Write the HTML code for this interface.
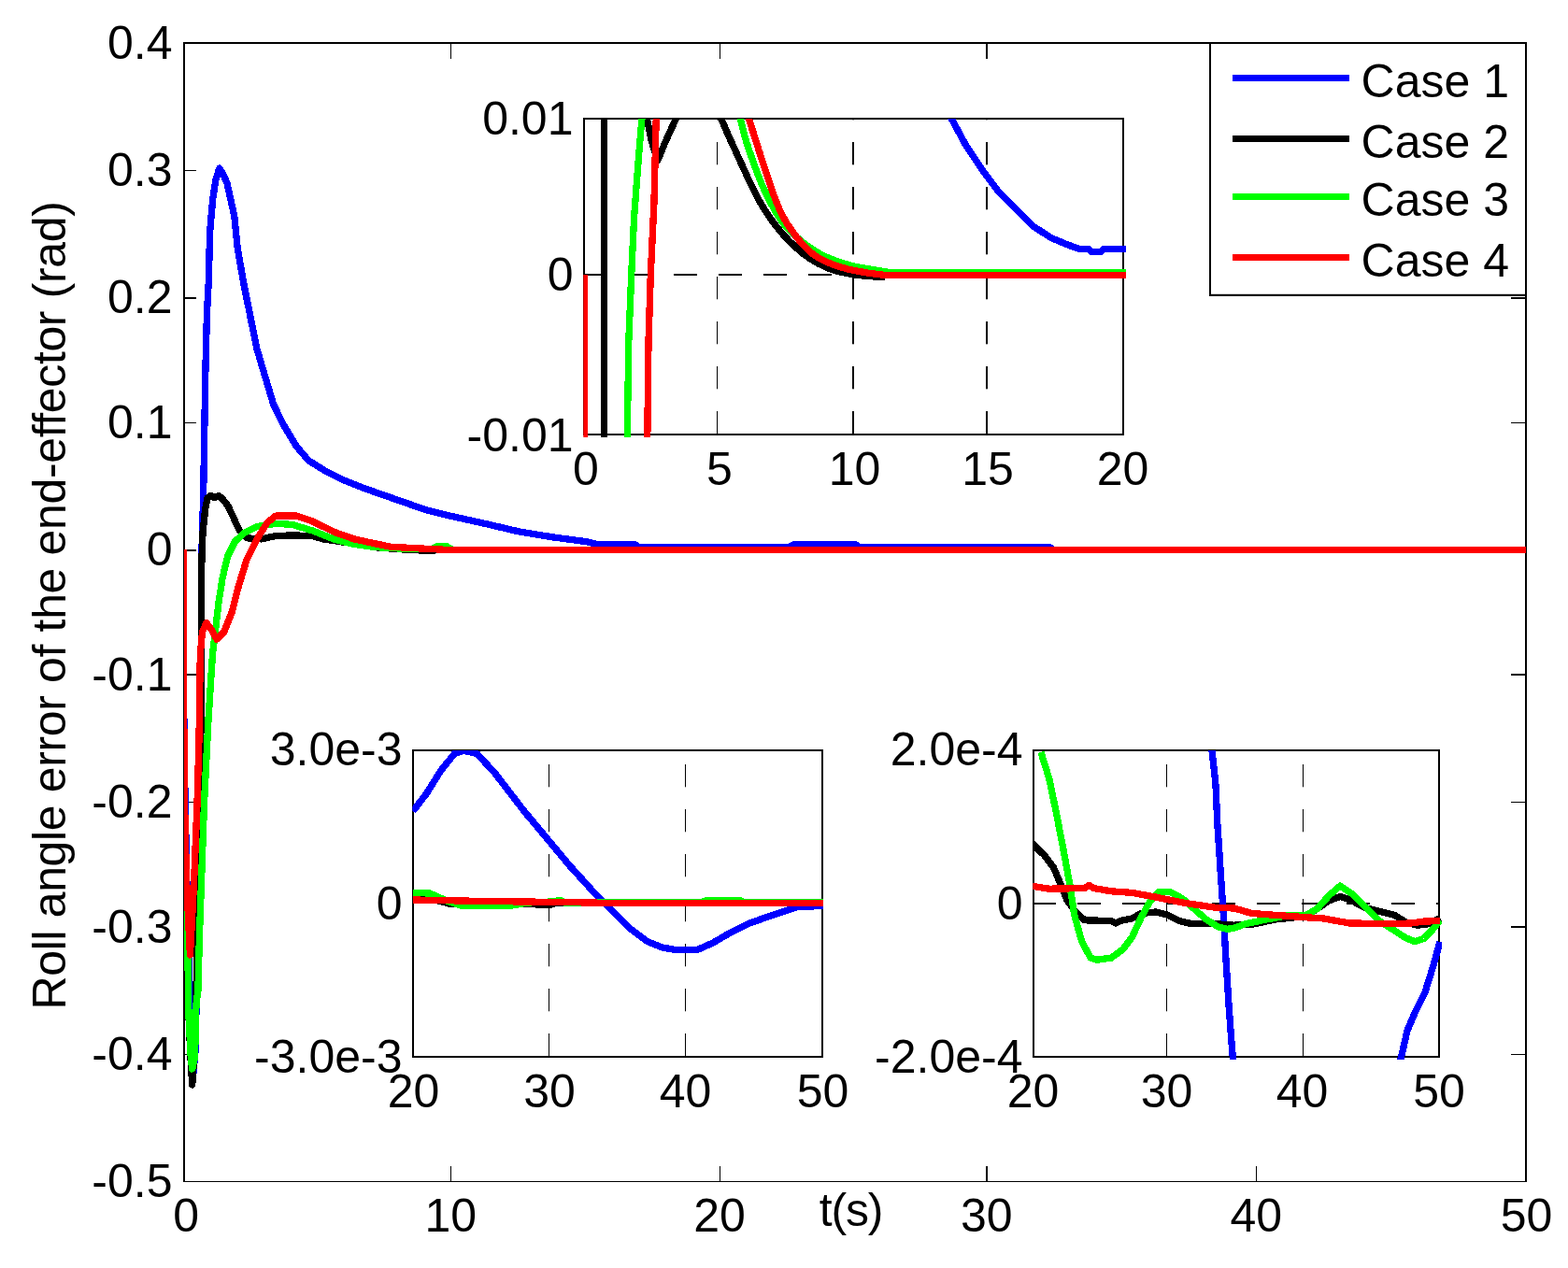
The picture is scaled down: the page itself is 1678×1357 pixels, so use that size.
<!DOCTYPE html>
<html lang="en">
<head>
<meta charset="utf-8">
<title>Roll angle error of the end-effector</title>
<style>
html,body{margin:0;padding:0;background:#fff;}
body{width:1678px;height:1357px;overflow:hidden;}
svg{display:block;}
text{font-family:"Liberation Sans",sans-serif;}
</style>
</head>
<body>
<svg width="1678" height="1357" viewBox="0 0 1678 1357" font-family="'Liberation Sans', sans-serif" font-size="50" fill="#000">
<rect x="0" y="0" width="1678" height="1357" fill="#fff"/>
<g stroke="#000" fill="none" shape-rendering="crispEdges">
<line x1="196" y1="46" x2="1634" y2="46" stroke-width="2"/>
<line x1="197" y1="46" x2="197" y2="1265" stroke-width="2"/>
<line x1="1633" y1="46" x2="1633" y2="1265" stroke-width="2"/>
<line x1="196" y1="1264.5" x2="1634" y2="1264.5" stroke-width="1.5"/>
<rect x="482" y="1248" width="1" height="16" fill="#000" stroke="none"/>
<rect x="482" y="47" width="1" height="15.5" fill="#000" stroke="none"/>
<rect x="770" y="1248" width="1" height="16" fill="#000" stroke="none"/>
<rect x="770" y="47" width="1" height="15.5" fill="#000" stroke="none"/>
<rect x="1055" y="1248" width="2" height="16" fill="#000" stroke="none"/>
<rect x="1055" y="47" width="2" height="15.5" fill="#000" stroke="none"/>
<rect x="1344" y="1248" width="1" height="16" fill="#000" stroke="none"/>
<rect x="1344" y="47" width="1" height="15.5" fill="#000" stroke="none"/>
<rect x="198" y="182" width="12" height="1" fill="#000" stroke="none"/>
<rect x="1617" y="182" width="15" height="1" fill="#000" stroke="none"/>
<rect x="198" y="318" width="12" height="2" fill="#000" stroke="none"/>
<rect x="1617" y="318" width="15" height="2" fill="#000" stroke="none"/>
<rect x="198" y="452" width="12" height="1" fill="#000" stroke="none"/>
<rect x="1617" y="452" width="15" height="1" fill="#000" stroke="none"/>
<rect x="198" y="588" width="12" height="2" fill="#000" stroke="none"/>
<rect x="1617" y="588" width="15" height="2" fill="#000" stroke="none"/>
<rect x="198" y="721" width="12" height="2" fill="#000" stroke="none"/>
<rect x="1617" y="721" width="15" height="2" fill="#000" stroke="none"/>
<rect x="198" y="858" width="12" height="1" fill="#000" stroke="none"/>
<rect x="1617" y="858" width="15" height="1" fill="#000" stroke="none"/>
<rect x="198" y="991" width="12" height="2" fill="#000" stroke="none"/>
<rect x="1617" y="991" width="15" height="2" fill="#000" stroke="none"/>
<rect x="198" y="1128" width="12" height="1" fill="#000" stroke="none"/>
<rect x="1617" y="1128" width="15" height="1" fill="#000" stroke="none"/>
</g>
<text x="184.5" y="62.5" text-anchor="end" >0.4</text>
<text x="184.5" y="199.0" text-anchor="end" >0.3</text>
<text x="184.5" y="335.0" text-anchor="end" >0.2</text>
<text x="184.5" y="469.0" text-anchor="end" >0.1</text>
<text x="184.5" y="605.0" text-anchor="end" >0</text>
<text x="184.5" y="738.5" text-anchor="end" >-0.1</text>
<text x="184.5" y="874.5" text-anchor="end" >-0.2</text>
<text x="184.5" y="1008.5" text-anchor="end" >-0.3</text>
<text x="184.5" y="1144.5" text-anchor="end" >-0.4</text>
<text x="184.5" y="1280.5" text-anchor="end" >-0.5</text>
<text x="199.1" y="1317.8" text-anchor="middle" >0</text>
<text x="482.2" y="1317.8" text-anchor="middle" >10</text>
<text x="770.0" y="1317.8" text-anchor="middle" >20</text>
<text x="1055.8" y="1317.8" text-anchor="middle" >30</text>
<text x="1344.3" y="1317.8" text-anchor="middle" >40</text>
<text x="1633.5" y="1317.8" text-anchor="middle" >50</text>
<text x="910.5" y="1312" text-anchor="middle" letter-spacing="-1.2">t(s)</text>
<text transform="translate(69.5,1080.5) rotate(-90)" text-anchor="start" letter-spacing="-0.36">Roll angle error of the end-effector (rad)</text>
<clipPath id="c0"><rect x="197" y="46" width="1437" height="1218"/></clipPath>
<g id="main-curves" clip-path="url(#c0)" shape-rendering="crispEdges">
<polyline points="196.0,588.0 197.0,800.0 201.0,1000.0 204.5,1100.0 207.0,1148.0 209.0,1125.0 210.0,1080.0 211.2,1010.0" fill="none" stroke="#0000ff" stroke-width="7.3" stroke-linejoin="round" stroke-linecap="butt" />
<polyline points="215.6,604.0 216.2,580.0 217.6,532.6 219.8,400.0 221.4,336.8 223.3,301.4 224.6,248.4 227.7,213.0 231.0,192.0 234.8,180.0 238.0,185.0 242.8,195.4 250.7,230.7 254.3,266.0 260.4,301.4 267.5,336.8 274.6,372.2 282.8,400.0 292.8,433.2 303.8,455.3 317.0,477.4 330.3,492.9 348.0,503.9 367.9,513.9 390.0,522.7 412.1,530.4 434.3,538.2 456.4,545.9 478.5,551.4 519.6,560.5 555.4,568.9 591.1,574.8 626.9,579.6 641.2,583.0 680.0,583.0 684.0,585.5 845.0,585.5 849.0,583.0 916.0,583.0 920.0,585.5 1123.0,585.5 1127.0,588.0" fill="none" stroke="#0000ff" stroke-width="7.3" stroke-linejoin="round" stroke-linecap="butt" />
<polyline points="196.0,588.0 197.0,860.0 200.5,1000.0 202.0,1088.0 204.0,1132.0 205.7,1161.0 208.5,1120.0 210.0,1060.0 211.0,1000.0 212.5,940.0 214.5,860.0 215.0,760.0 215.2,700.0 215.5,630.0 215.9,599.0 217.0,570.0 219.8,543.7 222.0,533.0 225.3,530.4 229.5,532.5 234.2,530.4 239.0,535.0 244.1,541.5 256.3,568.0 264.0,575.8 279.5,576.9 295.0,573.6 312.6,572.9 334.8,573.6 345.8,576.9 368.0,580.2 401.0,585.7 440.0,588.6 462.0,589.3 470.0,588.4 1633.0,588.4" fill="none" stroke="#000000" stroke-width="7.3" stroke-linejoin="round" stroke-linecap="butt" />
<polyline points="196.0,588.0 196.5,860.0 200.5,1000.0 202.0,1088.0 204.3,1132.0 205.7,1144.0 208.5,1132.0 210.0,1074.0 211.9,1060.0 213.5,1000.0 218.5,860.0 223.0,770.0 227.5,700.0 234.2,643.2 238.2,618.0 243.7,595.0 251.5,579.5 261.0,570.5 275.0,563.6 295.0,560.3 312.6,561.4 334.8,568.0 356.9,576.9 379.0,582.4 401.0,585.6 440.0,587.6 462.0,587.5 468.0,584.8 478.0,584.8 484.0,588.4 1633.0,588.4" fill="none" stroke="#00ff00" stroke-width="7.3" stroke-linejoin="round" stroke-linecap="butt" />
<polyline points="196.4,588.4 196.4,730.0 197.6,860.0 199.5,940.0 203.4,1022.0 206.0,975.0 207.7,941.0 211.0,860.0 213.0,790.0 214.3,700.0 216.5,676.4 220.9,666.4 226.4,674.2 232.0,684.1 239.7,676.4 248.5,654.3 255.2,627.7 264.0,599.0 275.0,576.9 286.1,559.2 295.0,552.1 317.1,552.1 334.8,558.1 356.9,569.1 379.0,576.9 401.0,581.7 418.8,585.3 467.4,587.9 480.0,588.4 1633.0,588.4" fill="none" stroke="#ff0000" stroke-width="7.3" stroke-linejoin="round" stroke-linecap="butt" />
</g>
<rect x="625" y="127" width="577" height="338" fill="#fff" stroke="none"/>
<g fill="#000" stroke="none">
<rect x="767" y="440" width="1" height="24.3"/>
<rect x="767" y="392" width="1" height="24.3"/>
<rect x="767" y="344" width="1" height="24.3"/>
<rect x="767" y="296" width="1" height="24.3"/>
<rect x="767" y="248" width="1" height="24.3"/>
<rect x="767" y="200" width="1" height="24.3"/>
<rect x="767" y="152" width="1" height="24.3"/>
<rect x="767" y="127" width="1" height="1.3"/>
<rect x="912" y="440" width="2" height="24.3"/>
<rect x="912" y="392" width="2" height="24.3"/>
<rect x="912" y="344" width="2" height="24.3"/>
<rect x="912" y="296" width="2" height="24.3"/>
<rect x="912" y="248" width="2" height="24.3"/>
<rect x="912" y="200" width="2" height="24.3"/>
<rect x="912" y="152" width="2" height="24.3"/>
<rect x="912" y="127" width="2" height="1.3"/>
<rect x="1055" y="440" width="2" height="24.3"/>
<rect x="1055" y="392" width="2" height="24.3"/>
<rect x="1055" y="344" width="2" height="24.3"/>
<rect x="1055" y="296" width="2" height="24.3"/>
<rect x="1055" y="248" width="2" height="24.3"/>
<rect x="1055" y="200" width="2" height="24.3"/>
<rect x="1055" y="152" width="2" height="24.3"/>
<rect x="1055" y="127" width="2" height="1.3"/>
<rect x="625" y="293" width="25" height="2"/>
<rect x="673" y="293" width="25" height="2"/>
<rect x="721" y="293" width="25" height="2"/>
<rect x="769" y="293" width="25" height="2"/>
<rect x="817" y="293" width="25" height="2"/>
<rect x="865" y="293" width="25" height="2"/>
<rect x="913" y="293" width="25" height="2"/>
<rect x="961" y="293" width="25" height="2"/>
<rect x="1009" y="293" width="25" height="2"/>
<rect x="1057" y="293" width="25" height="2"/>
<rect x="1105" y="293" width="25" height="2"/>
<rect x="1153" y="293" width="25" height="2"/>
<rect x="1201" y="293" width="1" height="2"/>
</g>
<rect x="625" y="127" width="577" height="338" fill="none" stroke="#000" stroke-width="2" shape-rendering="crispEdges"/>
<clipPath id="c1"><rect x="624.3" y="127" width="580.7" height="341"/></clipPath>
<g clip-path="url(#c1)" shape-rendering="crispEdges">
<polyline points="1017.2,125.0 1033.9,156.0 1051.6,182.5 1069.3,206.1 1087.0,223.8 1104.7,241.5 1125.3,254.8 1143.0,262.1 1154.8,266.4 1164.5,266.4 1168.0,269.5 1178.0,269.5 1181.5,266.4 1206.0,266.4" fill="none" stroke="#0000ff" stroke-width="7.3" stroke-linejoin="round" stroke-linecap="butt" />
<polyline points="646.7,127.0 646.7,468.0" fill="none" stroke="#000000" stroke-width="7.3" stroke-linejoin="round" stroke-linecap="butt" />
<polyline points="691.9,125.0 697.0,150.0 703.7,172.2 712.0,152.0 724.3,125.0" fill="none" stroke="#000000" stroke-width="7.3" stroke-linejoin="round" stroke-linecap="butt" />
<polyline points="771.0,125.0 771.2,125.4 771.6,126.5 772.3,128.1 773.2,130.2 774.2,132.6 775.3,135.2 776.5,137.9 777.6,140.5 778.7,143.0 779.6,145.1 780.4,146.9 781.2,148.8 782.1,150.6 782.9,152.4 783.7,154.1 784.5,155.9 785.3,157.7 786.2,159.5 787.0,161.2 787.8,163.0 788.6,164.8 789.4,166.5 790.2,168.3 791.0,170.0 791.8,171.8 792.6,173.5 793.4,175.3 794.2,177.0 795.0,178.8 795.8,180.5 796.6,182.2 797.3,183.8 798.1,185.5 798.9,187.2 799.6,188.8 800.4,190.5 801.2,192.1 802.0,193.8 802.7,195.4 803.5,197.0 804.2,198.5 805.0,200.1 805.7,201.6 806.5,203.1 807.2,204.6 807.9,206.1 808.7,207.6 809.4,209.1 810.2,210.5 811.0,212.0 811.8,213.4 812.5,214.8 813.3,216.1 814.1,217.5 814.9,218.9 815.7,220.2 816.5,221.5 817.3,222.9 818.2,224.2 819.0,225.5 819.8,226.8 820.7,228.1 821.5,229.4 822.4,230.7 823.3,231.9 824.2,233.2 825.1,234.5 826.0,235.7 826.9,237.0 827.8,238.2 828.7,239.4 829.7,240.7 830.6,241.9 831.6,243.1 832.5,244.3 833.5,245.5 834.5,246.7 835.5,247.9 836.5,249.0 837.5,250.2 838.5,251.4 839.6,252.5 840.7,253.7 841.7,254.8 842.8,255.9 843.9,257.1 845.0,258.2 846.1,259.3 847.3,260.4 848.4,261.5 849.6,262.6 850.7,263.7 851.9,264.8 853.1,266.0 854.3,267.1 855.5,268.1 856.8,269.2 858.0,270.3 859.3,271.3 860.6,272.3 862.0,273.3 863.3,274.3 864.7,275.3 866.1,276.2 867.5,277.2 869.0,278.1 870.5,279.0 871.9,279.9 873.5,280.8 875.0,281.6 876.6,282.5 878.3,283.3 880.0,284.1 881.7,285.0 883.5,285.7 885.2,286.5 887.0,287.2 888.9,287.9 890.7,288.6 892.6,289.2 894.7,289.8 896.8,290.4 899.0,291.0 901.2,291.5 903.5,291.9 905.8,292.4 908.0,292.8 910.3,293.2 912.6,293.5 914.8,293.9 917.2,294.2 919.9,294.6 922.8,294.9 925.8,295.2 928.6,295.4 931.2,295.7 933.5,295.8 935.3,296.0 936.5,296.1 936.9,296.1 947.0,296.1" fill="none" stroke="#000000" stroke-width="7.3" stroke-linejoin="round" stroke-linecap="butt" />
<polyline points="671.3,468.0 672.8,365.3 675.7,294.0 678.6,232.6 683.0,173.7 686.9,127.0" fill="none" stroke="#00ff00" stroke-width="7.3" stroke-linejoin="round" stroke-linecap="butt" />
<polyline points="791.8,125.0 791.9,125.4 792.2,126.6 792.6,128.4 793.1,130.6 793.8,133.2 794.5,136.0 795.2,138.9 795.9,141.7 796.6,144.2 797.2,146.5 797.7,148.3 798.3,150.2 798.8,152.0 799.4,153.7 800.0,155.5 800.5,157.2 801.1,159.0 801.7,160.7 802.3,162.4 802.9,164.2 803.5,166.0 804.1,167.8 804.7,169.5 805.4,171.3 806.0,173.1 806.6,174.9 807.2,176.6 807.9,178.4 808.5,180.1 809.2,181.9 809.9,183.6 810.5,185.4 811.2,187.1 811.8,188.8 812.5,190.6 813.2,192.3 813.9,194.0 814.6,195.7 815.3,197.3 816.0,199.0 816.7,200.6 817.4,202.1 818.1,203.7 818.9,205.2 819.6,206.8 820.3,208.3 821.1,209.8 821.9,211.3 822.6,212.8 823.4,214.3 824.2,215.8 825.0,217.3 825.7,218.8 826.5,220.3 827.3,221.8 828.1,223.2 829.0,224.7 829.8,226.2 830.6,227.6 831.5,229.0 832.4,230.4 833.2,231.7 834.1,233.1 835.0,234.4 835.9,235.7 836.8,237.0 837.7,238.3 838.6,239.5 839.6,240.8 840.6,242.0 841.6,243.2 842.6,244.3 843.7,245.4 844.7,246.5 845.8,247.6 846.9,248.7 848.0,249.7 849.1,250.7 850.3,251.8 851.4,252.8 852.5,253.8 853.7,254.8 854.8,255.8 856.0,256.8 857.1,257.7 858.3,258.7 859.5,259.6 860.7,260.5 861.9,261.5 863.2,262.4 864.6,263.4 866.0,264.4 867.4,265.4 868.9,266.3 870.4,267.3 871.9,268.3 873.4,269.2 874.9,270.1 876.4,271.0 877.9,271.8 879.3,272.6 880.7,273.3 882.2,274.0 883.6,274.7 885.0,275.3 886.4,275.9 887.9,276.6 889.4,277.2 891.0,277.8 892.6,278.4 894.6,279.1 896.7,279.9 898.9,280.6 901.1,281.3 903.4,282.0 905.7,282.7 908.0,283.3 910.3,284.0 912.5,284.5 914.8,285.1 917.0,285.6 919.3,286.1 921.6,286.5 923.8,286.9 926.1,287.3 928.4,287.6 930.6,288.0 932.8,288.3 934.9,288.7 936.9,289.0 938.6,289.3 940.5,289.6 942.5,290.0 944.4,290.3 946.3,290.6 948.0,290.9 949.4,291.1 950.6,291.3 951.3,291.5 951.6,291.5 1206.0,291.5" fill="none" stroke="#00ff00" stroke-width="7.3" stroke-linejoin="round" stroke-linecap="butt" />
<polyline points="625.6,294.0 625.6,468.0" fill="none" stroke="#ff0000" stroke-width="7.3" stroke-linejoin="round" stroke-linecap="butt" />
<polyline points="692.8,468.0 694.0,365.3 696.3,294.0 699.9,217.9 702.2,127.0" fill="none" stroke="#ff0000" stroke-width="7.3" stroke-linejoin="round" stroke-linecap="butt" />
<polyline points="800.6,125.0 800.7,125.3 801.0,126.3 801.5,127.7 802.1,129.5 802.8,131.6 803.5,133.9 804.3,136.3 805.1,138.7 805.8,140.9 806.5,143.0 807.2,145.2 807.9,147.4 808.6,149.7 809.4,152.1 810.1,154.4 810.9,156.8 811.6,159.1 812.3,161.5 813.1,163.8 813.8,166.0 814.5,168.1 815.1,170.1 815.8,172.0 816.4,174.0 817.1,176.0 817.7,177.9 818.4,179.9 819.0,181.9 819.7,183.9 820.4,186.0 821.2,188.3 821.9,190.7 822.7,193.1 823.5,195.5 824.3,198.0 825.1,200.4 825.9,202.9 826.8,205.3 827.6,207.7 828.5,210.0 829.3,212.2 830.2,214.4 831.0,216.5 831.9,218.7 832.8,220.8 833.7,222.9 834.6,225.0 835.5,227.0 836.5,229.0 837.5,231.0 838.5,232.8 839.5,234.6 840.6,236.4 841.6,238.2 842.7,239.9 843.9,241.6 845.0,243.3 846.1,245.0 847.3,246.6 848.4,248.2 849.5,249.7 850.5,251.1 851.6,252.6 852.7,254.0 853.8,255.4 854.9,256.7 856.0,258.1 857.2,259.4 858.3,260.7 859.5,262.0 860.7,263.2 861.8,264.4 863.0,265.6 864.2,266.8 865.5,268.0 866.7,269.1 868.0,270.2 869.3,271.3 870.6,272.3 872.0,273.3 873.5,274.3 875.0,275.3 876.6,276.2 878.1,277.1 879.8,277.9 881.4,278.7 883.1,279.5 884.8,280.3 886.5,281.1 888.2,281.8 890.0,282.5 891.9,283.3 893.7,283.9 895.6,284.6 897.6,285.2 899.5,285.8 901.4,286.4 903.4,286.9 905.4,287.5 907.4,288.0 909.5,288.5 911.7,289.0 913.9,289.5 916.2,289.9 918.4,290.4 920.7,290.8 922.9,291.1 925.1,291.5 927.3,291.9 929.5,292.2 931.6,292.5 934.0,292.8 936.5,293.1 939.1,293.5 941.5,293.7 943.8,294.0 945.7,294.2 947.2,294.4 948.2,294.5 948.6,294.5 1206.0,294.5" fill="none" stroke="#ff0000" stroke-width="7.3" stroke-linejoin="round" stroke-linecap="butt" />
</g>
<text x="627" y="519.2" text-anchor="middle" >0</text>
<text x="770" y="519.2" text-anchor="middle" >5</text>
<text x="914.5" y="519.2" text-anchor="middle" >10</text>
<text x="1057" y="519.2" text-anchor="middle" >15</text>
<text x="1201.5" y="519.2" text-anchor="middle" >20</text>
<text x="613.5" y="143.5" text-anchor="end" >0.01</text>
<text x="613.5" y="311" text-anchor="end" >0</text>
<text x="613.5" y="482.5" text-anchor="end" >-0.01</text>
<rect x="442" y="803" width="438" height="328" fill="#fff" stroke="none"/>
<g fill="#000" stroke="none">
<rect x="587" y="1106" width="1" height="24.3"/>
<rect x="587" y="1058" width="1" height="24.3"/>
<rect x="587" y="1010" width="1" height="24.3"/>
<rect x="587" y="962" width="1" height="24.3"/>
<rect x="587" y="914" width="1" height="24.3"/>
<rect x="587" y="866" width="1" height="24.3"/>
<rect x="587" y="818" width="1" height="24.3"/>
<rect x="733" y="1106" width="1" height="24.3"/>
<rect x="733" y="1058" width="1" height="24.3"/>
<rect x="733" y="1010" width="1" height="24.3"/>
<rect x="733" y="962" width="1" height="24.3"/>
<rect x="733" y="914" width="1" height="24.3"/>
<rect x="733" y="866" width="1" height="24.3"/>
<rect x="733" y="818" width="1" height="24.3"/>
</g>
<rect x="442" y="803" width="438" height="328" fill="none" stroke="#000" stroke-width="2" shape-rendering="crispEdges"/>
<clipPath id="c2"><rect x="441.3" y="803" width="441.7" height="331"/></clipPath>
<g clip-path="url(#c2)" shape-rendering="crispEdges">
<polyline points="441.9,868.2 456.5,849.2 472.3,823.9 486.6,806.4 496.0,803.3 510.3,806.4 529.3,827.0 545.2,847.6 561.0,868.2 576.9,887.2 592.7,906.2 608.6,925.3 624.4,942.7 640.2,960.1 651.7,971.2 673.9,993.4 692.9,1007.6 708.7,1014.0 721.4,1016.2 746.7,1016.2 762.6,1009.2 781.6,998.1 800.6,988.6 822.8,980.7 841.8,974.4 854.5,970.3 881.0,969.6" fill="none" stroke="#0000ff" stroke-width="7.3" stroke-linejoin="round" stroke-linecap="butt" />
<polyline points="441.9,962.0 470.0,964.0 480.0,967.0 560.0,967.0 575.0,968.0 590.0,968.0 596.0,966.0 881.0,966.5" fill="none" stroke="#000000" stroke-width="7.3" stroke-linejoin="round" stroke-linecap="butt" />
<polyline points="441.9,955.5 460.0,956.0 478.0,964.0 495.0,969.5 545.0,969.5 565.0,966.0 590.0,965.0 600.0,963.5 604.0,966.0 750.0,966.0 755.0,964.0 793.0,964.0 797.0,966.0 881.0,966.0" fill="none" stroke="#00ff00" stroke-width="7.3" stroke-linejoin="round" stroke-linecap="butt" />
<polyline points="441.9,963.0 520.0,964.5 600.0,965.5 660.0,966.5 881.0,966.5" fill="none" stroke="#ff0000" stroke-width="7.3" stroke-linejoin="round" stroke-linecap="butt" />
</g>
<text x="442.5" y="1185" text-anchor="middle" >20</text>
<text x="588" y="1185" text-anchor="middle" >30</text>
<text x="733.5" y="1185" text-anchor="middle" >40</text>
<text x="880.5" y="1185" text-anchor="middle" >50</text>
<text x="430.5" y="819.2" text-anchor="end" >3.0e-3</text>
<text x="430.5" y="983.6" text-anchor="end" >0</text>
<text x="430.5" y="1148" text-anchor="end" >-3.0e-3</text>
<rect x="1106" y="803" width="434" height="328" fill="#fff" stroke="none"/>
<g fill="#000" stroke="none">
<rect x="1248" y="1106" width="1" height="24.3"/>
<rect x="1248" y="1058" width="1" height="24.3"/>
<rect x="1248" y="1010" width="1" height="24.3"/>
<rect x="1248" y="962" width="1" height="24.3"/>
<rect x="1248" y="914" width="1" height="24.3"/>
<rect x="1248" y="866" width="1" height="24.3"/>
<rect x="1248" y="818" width="1" height="24.3"/>
<rect x="1394" y="1106" width="1" height="24.3"/>
<rect x="1394" y="1058" width="1" height="24.3"/>
<rect x="1394" y="1010" width="1" height="24.3"/>
<rect x="1394" y="962" width="1" height="24.3"/>
<rect x="1394" y="914" width="1" height="24.3"/>
<rect x="1394" y="866" width="1" height="24.3"/>
<rect x="1394" y="818" width="1" height="24.3"/>
<rect x="1105" y="966" width="25" height="2"/>
<rect x="1153" y="966" width="25" height="2"/>
<rect x="1201" y="966" width="25" height="2"/>
<rect x="1249" y="966" width="25" height="2"/>
<rect x="1297" y="966" width="25" height="2"/>
<rect x="1345" y="966" width="25" height="2"/>
<rect x="1393" y="966" width="25" height="2"/>
<rect x="1441" y="966" width="25" height="2"/>
<rect x="1489" y="966" width="25" height="2"/>
<rect x="1537" y="966" width="3" height="2"/>
</g>
<rect x="1106" y="803" width="434" height="328" fill="none" stroke="#000" stroke-width="2" shape-rendering="crispEdges"/>
<clipPath id="c3"><rect x="1105.3" y="803" width="437.7" height="331"/></clipPath>
<g clip-path="url(#c3)" shape-rendering="crispEdges">
<polyline points="1296.7,800.0 1301.0,840.0 1302.8,880.9 1305.9,928.4 1309.1,976.0 1311.8,1023.5 1314.7,1071.0 1317.7,1112.2 1319.5,1134.4" fill="none" stroke="#0000ff" stroke-width="7.3" stroke-linejoin="round" stroke-linecap="butt" />
<polyline points="1498.8,1134.4 1506.1,1102.7 1515.6,1080.5 1525.1,1061.5 1533.0,1036.2 1539.3,1014.0 1541.0,1008.0" fill="none" stroke="#0000ff" stroke-width="7.3" stroke-linejoin="round" stroke-linecap="butt" />
<polyline points="1105.0,903.0 1118.0,915.8 1127.5,928.4 1135.5,947.4 1141.8,963.3 1151.3,976.0 1160.8,984.8 1189.3,985.5 1194.1,988.0 1198.8,985.5 1211.5,982.9 1221.0,977.5 1236.9,976.0 1249.5,979.1 1262.2,985.5 1274.9,988.6 1300.2,988.6 1319.9,990.2 1339.7,989.3 1365.0,983.9 1396.7,980.7 1409.4,972.8 1422.1,963.9 1434.1,959.5 1444.3,962.6 1460.1,971.2 1491.8,979.1 1504.5,987.0 1517.1,990.2 1529.8,988.6 1541.0,982.5" fill="none" stroke="#000000" stroke-width="7.3" stroke-linejoin="round" stroke-linecap="butt" />
<polyline points="1113.9,804.9 1122.8,833.4 1130.7,871.4 1138.6,912.6 1145.0,947.4 1149.7,979.1 1157.7,1007.6 1167.1,1025.1 1173.5,1027.3 1189.3,1025.1 1202.0,1015.6 1211.5,1002.9 1221.0,982.3 1230.5,964.9 1240.0,954.7 1252.7,954.7 1265.4,961.7 1278.0,972.8 1290.7,983.9 1303.4,991.8 1312.9,994.3 1319.9,993.4 1333.4,988.6 1355.6,983.9 1377.7,979.8 1396.7,979.8 1409.4,972.8 1422.1,958.5 1434.1,948.1 1447.4,956.9 1460.1,969.6 1476.0,985.5 1491.8,995.6 1504.5,1003.8 1514.0,1007.6 1523.5,1004.5 1533.0,995.0 1541.0,985.0" fill="none" stroke="#00ff00" stroke-width="7.3" stroke-linejoin="round" stroke-linecap="butt" />
<polyline points="1105.0,948.4 1122.8,951.2 1160.8,950.6 1165.6,947.4 1170.4,950.6 1189.3,953.8 1211.5,955.4 1236.9,960.1 1268.5,966.5 1300.2,971.2 1320.7,972.0 1339.7,977.5 1396.7,981.7 1415.8,982.9 1444.3,988.0 1491.8,988.6 1510.0,988.0 1523.5,986.1 1541.0,985.5" fill="none" stroke="#ff0000" stroke-width="7.3" stroke-linejoin="round" stroke-linecap="butt" />
</g>
<text x="1105.5" y="1185" text-anchor="middle" >20</text>
<text x="1248.5" y="1185" text-anchor="middle" >30</text>
<text x="1393.5" y="1185" text-anchor="middle" >40</text>
<text x="1540" y="1185" text-anchor="middle" >50</text>
<text x="1094.5" y="819.2" text-anchor="end" >2.0e-4</text>
<text x="1094.5" y="983.6" text-anchor="end" >0</text>
<text x="1094.5" y="1148" text-anchor="end" >-2.0e-4</text>
<rect x="1295" y="46" width="338" height="269" fill="#fff" stroke="none"/>
<g stroke="#000" stroke-width="2" shape-rendering="crispEdges"><line x1="1295" y1="45" x2="1295" y2="316.4"/><line x1="1294" y1="46" x2="1634" y2="46"/><line x1="1633" y1="45" x2="1633" y2="316.4"/></g>
<rect x="1294" y="314.8" width="340" height="2.2" fill="#000"/>
<line x1="1319" y1="83.5" x2="1444" y2="83.5" stroke="#0000ff" stroke-width="7.5" shape-rendering="crispEdges"/>
<text x="1456.6" y="104" text-anchor="start" >Case 1</text>
<line x1="1319" y1="148.6" x2="1444" y2="148.6" stroke="#000000" stroke-width="7.5" shape-rendering="crispEdges"/>
<text x="1456.6" y="169" text-anchor="start" >Case 2</text>
<line x1="1319" y1="210.5" x2="1444" y2="210.5" stroke="#00ff00" stroke-width="7.5" shape-rendering="crispEdges"/>
<text x="1456.6" y="230.7" text-anchor="start" >Case 3</text>
<line x1="1319" y1="275.5" x2="1444" y2="275.5" stroke="#ff0000" stroke-width="7.5" shape-rendering="crispEdges"/>
<text x="1456.6" y="296" text-anchor="start" >Case 4</text>
</svg>
</body>
</html>
